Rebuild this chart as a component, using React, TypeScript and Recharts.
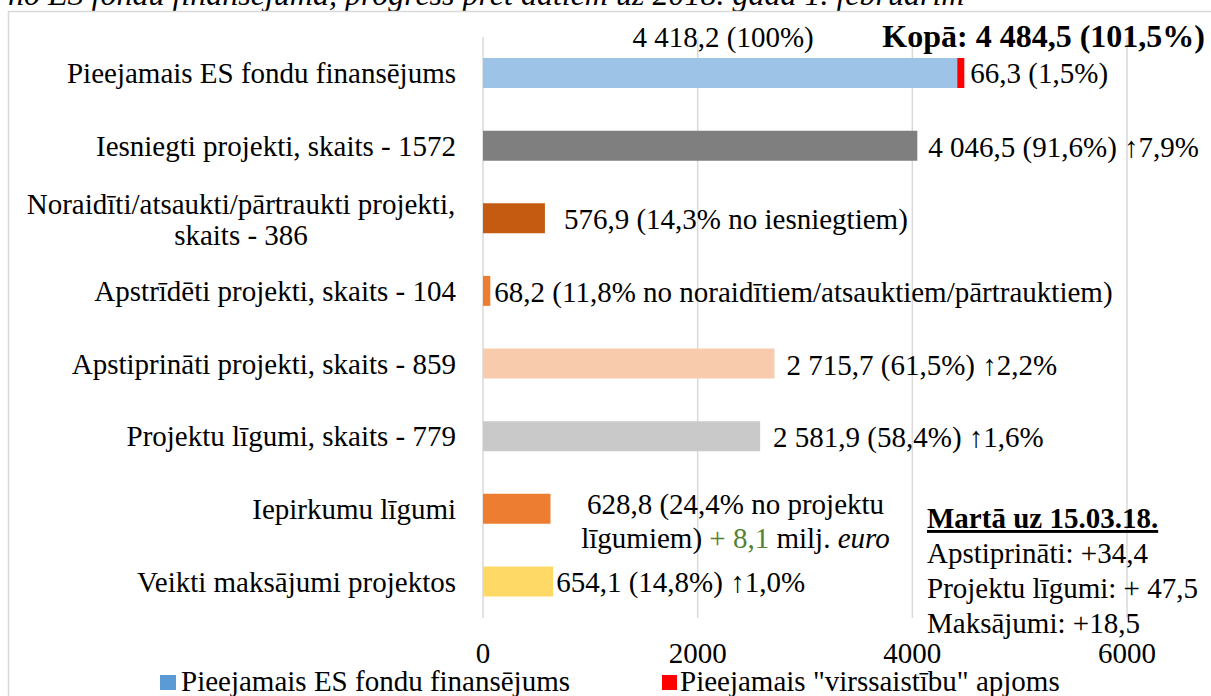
import React from 'react';
import { BarChart, Bar, XAxis, YAxis, CartesianGrid, Cell, LabelList } from 'recharts';

const FONT = '"Liberation Serif", "Times New Roman", serif';
const FS = 29;

const categories = [
  'Pieejamais ES fondu finansējums',
  'Iesniegti projekti, skaits - 1572',
  'Noraidīti/atsaukti/pārtraukti projekti,\nskaits - 386',
  'Apstrīdēti projekti, skaits - 104',
  'Apstiprināti projekti, skaits - 859',
  'Projektu līgumi, skaits - 779',
  'Iepirkumu līgumi',
  'Veikti maksājumi projektos',
];
const fundingValues = [4418.2, 4046.5, 576.9, 68.2, 2715.7, 2581.9, 628.8, 654.1];
const overCommitValues = [66.3, 0, 0, 0, 0, 0, 0, 0];
const xTicks = [0, 2000, 4000, 6000];
const valueLabels = [
  '66,3 (1,5%)',
  '4 046,5 (91,6%) ↑7,9%',
  '576,9 (14,3% no iesniegtiem)',
  '68,2 (11,8% no noraidītiem/atsauktiem/pārtrauktiem)',
  '2 715,7 (61,5%) ↑2,2%',
  '2 581,9 (58,4%) ↑1,6%',
  '628,8 (24,4% no projektu\nlīgumiem) + 8,1 milj. euro',
  '654,1 (14,8%) ↑1,0%',
];
const baseTopLabel = '4 418,2 (100%)';
const totalLabel = 'Kopā: 4 484,5 (101,5%)';
const seriesNames = ['Pieejamais ES fondu finansējums', 'Pieejamais "virssaistību" apjoms'];
const noteTitle = 'Martā uz 15.03.18.';
const noteLines = ['Apstiprināti: +34,4', 'Projektu līgumi: + 47,5', 'Maksājumi: +18,5'];
const titleText = 'no ES fondu finansējuma, progress pret datiem uz 2018. gada 1. februārim';

// styling
const barColors = ['#9DC3E6', '#7F7F7F', '#C55A11', '#ED7D31', '#F8CBAD', '#C9C9C9', '#ED7D31', '#FFD966'];
const legendColors = ['#5B9BD5', '#FF0000'];
const labelGap = [6, 11, 19, 4, 12, 13, 0, 3];

const data = categories.map((name, i) => ({
  name,
  base: fundingValues[i],
  over: overCommitValues[i],
}));

const PLOT_TOP = 37;
const PLOT_BOTTOM = 618;
const Y_LABEL_RIGHT = 456;

const YTick = (props: any) => {
  const { payload } = props;
  const y = payload.coordinate;
  const lines = String(payload.value).split('\n');
  if (lines.length === 1) {
    return (
      <text x={Y_LABEL_RIGHT} y={y + 10} textAnchor="end" fontFamily={FONT} fontSize={FS} fill="#000">
        {lines[0]}
      </text>
    );
  }
  const cx = 241;
  return (
    <g>
      {lines.map((l, i) => (
        <text key={i} x={cx} y={y - 5 + i * 31} textAnchor="middle" fontFamily={FONT} fontSize={FS} fill="#000">
          {l}
        </text>
      ))}
    </g>
  );
};

const XTick = (props: any) => {
  const { payload } = props;
  return (
    <text x={payload.coordinate} y={PLOT_BOTTOM + 45} textAnchor="middle" fontFamily={FONT} fontSize={FS} fill="#000">
      {payload.value}
    </text>
  );
};

const renderRich = (line: string) => {
  const parts = line.split(/(\+ [\d,]+|euro)/);
  return parts.map((p, i) => {
    if (/^\+ [\d,]+$/.test(p)) return <tspan key={i} fill="#548235">{p}</tspan>;
    if (p === 'euro') return <tspan key={i} fontStyle="italic">{p}</tspan>;
    return <tspan key={i}>{p}</tspan>;
  });
};

const BaseLabel = (props: any) => {
  const { x, y, width, height, index } = props;
  const cy = y + height / 2;
  if (index === 0) {
    return (
      <text x={x + width / 2 + 3} y={y - 11} textAnchor="middle" fontFamily={FONT} fontSize={FS} fill="#000">
        {baseTopLabel}
      </text>
    );
  }
  const lines = valueLabels[index].split('\n');
  if (lines.length > 1) {
    const cx = x + width + 185;
    return (
      <g>
        {lines.map((l, i) => (
          <text key={i} x={cx} y={cy + 5 + i * 34} textAnchor="middle" fontFamily={FONT} fontSize={FS} fill="#000">
            {renderRich(l)}
          </text>
        ))}
      </g>
    );
  }
  return (
    <text x={x + width + labelGap[index]} y={cy + 11} fontFamily={FONT} fontSize={FS} fill="#000">
      {lines[0]}
    </text>
  );
};

const OverLabel = (props: any) => {
  const { x, y, width, height, index } = props;
  if (index !== 0) return null;
  return (
    <text x={x + width + labelGap[0]} y={y + height / 2 + 10} fontFamily={FONT} fontSize={FS} fill="#000">
      {valueLabels[0]}
    </text>
  );
};

export default function App() {
  return (
    <div style={{ position: 'absolute', left: 0, top: 0, width: 1211, height: 696, overflow: 'hidden', background: '#fff' }}>
      <svg width={1211} height={696} style={{ position: 'absolute', left: 0, top: 0 }}>
        <text x={8} y={5} fontFamily={FONT} fontSize={32} fontStyle="italic" fill="#000">
          {titleText}
        </text>
        <rect x={8.5} y={11.5} width={1400} height={900} fill="none" stroke="#D9D9D9" strokeWidth={1.5} />
      </svg>
      <div style={{ position: 'absolute', left: 0, top: 0 }}>
        <BarChart
          width={1211}
          height={696}
          data={data}
          layout="vertical"
          margin={{ top: PLOT_TOP, right: 84, bottom: 38, left: 0 }}
        >
          <CartesianGrid horizontal={false} stroke="#D9D9D9" strokeWidth={1.5} />
          <XAxis type="number" domain={[0, 6000]} ticks={xTicks} axisLine={false} tickLine={false} height={40} tick={<XTick />} interval={0} />
          <YAxis type="category" dataKey="name" width={483} axisLine={false} tickLine={false} tick={<YTick />} interval={0} />
          <Bar dataKey="base" stackId="a" barSize={30} isAnimationActive={false}>
            {data.map((_, i) => (
              <Cell key={i} fill={barColors[i]} />
            ))}
            <LabelList dataKey="base" content={<BaseLabel />} />
          </Bar>
          <Bar dataKey="over" stackId="a" barSize={30} fill="#FF0000" isAnimationActive={false}>
            <LabelList dataKey="over" content={<OverLabel />} />
          </Bar>
        </BarChart>
      </div>
      <svg width={1211} height={696} style={{ position: 'absolute', left: 0, top: 0, pointerEvents: 'none' }}>
        <text x={1205} y={47} textAnchor="end" fontFamily={FONT} fontSize={32} fontWeight="bold" fill="#000">
          {totalLabel}
        </text>
        <text x={927} y={528} fontFamily={FONT} fontSize={FS} fontWeight="bold" textDecoration="underline" fill="#000">
          {noteTitle}
        </text>
        {noteLines.map((l, i) => (
          <text key={i} x={927} y={563 + i * 35} fontFamily={FONT} fontSize={FS} fill="#000">
            {l}
          </text>
        ))}
        <rect x={160} y={675} width={16} height={15} fill={legendColors[0]} />
        <text x={181} y={691} fontFamily={FONT} fontSize={FS} fill="#000">{seriesNames[0]}</text>
        <rect x={662} y={675} width={15} height={15} fill={legendColors[1]} />
        <text x={680} y={691} fontFamily={FONT} fontSize={FS} fill="#000">{seriesNames[1]}</text>
      </svg>
    </div>
  );
}
